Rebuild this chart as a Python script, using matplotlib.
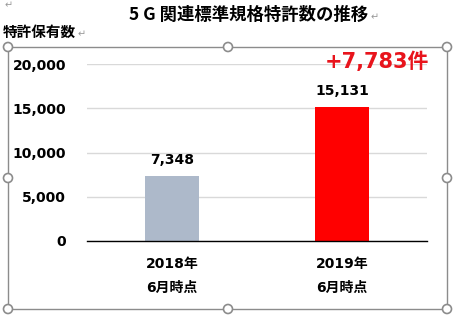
import matplotlib
matplotlib.use('Agg')
import matplotlib.pyplot as plt
from matplotlib.patches import Rectangle, Circle

years = ["2018年", "2019年"]
periods = ["6月時点", "6月時点"]
counts = [7348, 15131]
bar_colors = ["#ADB9CA", "#FF0000"]
yticks = [0, 5000, 10000, 15000, 20000]
increase_label = "+7,783件"
title = "5 G 関連標準規格特許数の推移"
ylabel = "特許保有数"

plt.rcParams['font.family'] = ['DejaVu Sans', 'Noto Sans CJK JP']
jp = ['Noto Sans CJK JP', 'DejaVu Sans']

W, H = 454, 318
fig = plt.figure(figsize=(W / 100, H / 100), dpi=100)

# plot area in pixel terms: x 87..427, y(0)=241, y(20000)=64
ax = fig.add_axes([87 / W, 1 - 241 / H, 340 / W, 177 / H])
x = list(range(len(counts)))
ax.bar(x, counts, width=0.32, color=bar_colors, zorder=3)
ax.set_xlim(-0.5, 1.5)
ax.set_ylim(0, 20000)
ax.set_yticks(yticks)
ax.set_yticklabels([f"{v:,}" for v in yticks], fontsize=10, fontweight='bold')
ax.tick_params(axis='y', length=0, pad=15)
ax.set_xticks([])
ax.grid(True, axis='y', color='#D9D9D9', lw=1, zorder=0)
for s in ['top', 'right', 'left']:
    ax.spines[s].set_visible(False)
ax.spines['bottom'].set_color('black')
ax.spines['bottom'].set_linewidth(1)
ax.spines['bottom'].set_zorder(4)

for xi, v in zip(x, counts):
    ax.annotate(f"{v:,}", (xi, v), xytext=(0, 11.5), textcoords='offset points',
                ha='center', va='center', fontsize=10, fontweight='bold')

tr = ax.get_xaxis_transform()
for xi, yr, pr in zip(x, years, periods):
    ax.text(xi, -0.13, yr, transform=tr, ha='center', va='center',
            fontsize=10, fontweight='bold', family=['DejaVu Sans', 'Noto Sans CJK JP'])
    ax.text(xi, -0.265, pr, transform=tr, ha='center', va='center',
            fontsize=10, fontweight='bold', family=['DejaVu Sans', 'Noto Sans CJK JP'])

# overlay in pixel coordinates for document decorations
ov = fig.add_axes([0, 0, 1, 1], zorder=10)
ov.set_xlim(0, W)
ov.set_ylim(H, 0)
ov.axis('off')
ov.patch.set_visible(False)

ov.text(377, 62, increase_label, ha='center', va='center', fontsize=15,
        fontweight='bold', color='#E8141C', family=['DejaVu Sans', 'Noto Sans CJK JP'])

ov.text(5, 5, "↵", ha='left', va='center', fontsize=7, color='#999999', family=jp)
ov.text(249, 15, title, ha='center', va='center', fontsize=12.5,
        fontweight='bold', family=jp)
ov.text(371, 17, "↵", ha='left', va='center', fontsize=7, color='#999999', family=jp)
ov.text(3, 32, ylabel, ha='left', va='center', fontsize=10.5, fontweight='bold', family=jp)
ov.text(78, 34, "↵", ha='left', va='center', fontsize=7, color='#999999', family=jp)

edge = '#8C8C8C'
ov.add_patch(Rectangle((8, 47), 439, 262, fill=False, edgecolor=edge, lw=1))
for cx in (8, 228, 447):
    for cy in (47, 178, 309):
        if cx == 228 and cy == 178:
            continue
        ov.add_patch(Circle((cx, cy), 4.5, facecolor='white', edgecolor=edge, lw=1.2))

fig.savefig('out.png', dpi=100)
